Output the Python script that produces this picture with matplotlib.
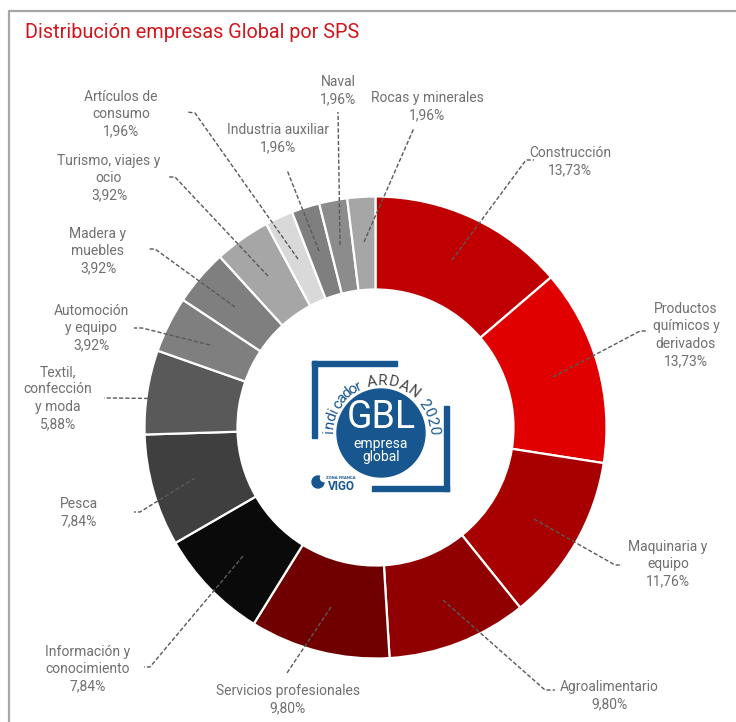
import numpy as np
import matplotlib
matplotlib.use("Agg")
import matplotlib.pyplot as plt
from matplotlib.patches import Circle, Rectangle

plt.rcParams['font.family'] = ['Roboto', 'DejaVu Sans']

H = 722
W = 736

# sectors, clockwise from 12 o'clock
sectors = ["Construcción", "Productos\nquímicos y\nderivados", "Maquinaria y\nequipo",
           "Agroalimentario", "Servicios profesionales", "Información y\nconocimiento",
           "Pesca", "Textil,\nconfección\ny moda", "Automoción\ny equipo", "Madera y\nmuebles",
           "Turismo, viajes y\nocio", "Artículos de\nconsumo", "Industria auxiliar",
           "Naval", "Rocas y minerales"]
shares = [13.73, 13.73, 11.76, 9.80, 9.80, 7.84, 7.84, 5.88, 3.92, 3.92, 3.92, 1.96, 1.96, 1.96, 1.96]
colors = ["#C00000", "#E00000", "#A80000", "#900000", "#700000", "#0A0A0A", "#3F3F3F", "#595959",
          "#7F7F7F", "#7F7F7F", "#A6A6A6", "#D9D9D9", "#7F7F7F", "#8C8C8C", "#A6A6A6"]

# label centre in image pixels
label_xy = [(570, 162), (686, 335), (668, 564), (609, 696), (288, 700), (88, 669), (79, 513),
            (58, 398), (91, 328), (98, 251), (109, 178), (121, 114), (278, 139), (338, 91), (427, 107)]
# leader lines in image pixels, wedge end first
leaders = [[(452, 260), (526, 160), (534, 160)],
           [(553, 377), (640, 331), (648, 331)],
           [(534, 519), (615, 565), (622, 565)],
           [(443, 600), (545, 690), (555, 690)],
           [(331, 607), (287, 673)],
           [(243, 556), (150, 667), (144, 667)],
           [(195, 478), (140, 512), (134, 512)],
           [(192, 399), (112, 398), (104, 398)],
           [(210, 345), (142, 328), (134, 328)],
           [(235, 307), (155, 249), (148, 249)],
           [(268, 276), (175, 177), (168, 177)],
           [(298, 259), (195, 113), (187, 112)],
           [(319, 251), (287, 170)],
           [(340, 245), (338, 112)],
           [(364, 242), (414, 128)]]

fig = plt.figure(figsize=(W / 100, H / 100), dpi=100, facecolor="white")
ax = fig.add_axes([0, 0, 1, 1])

ax.pie(shares, colors=colors, startangle=90, counterclock=False, center=(375.5, H - 427.5),
       radius=231, frame=True,
       wedgeprops=dict(width=93, edgecolor="white", linewidth=1.6))
ax.set_xlim(0, W)
ax.set_ylim(0, H)
ax.axis("off")


def Y(y):
    return H - y


# frame and title
ax.plot([9, 9, W], [0, Y(11), Y(11)], color="#A6A6A6", lw=1.6, clip_on=False)
ax.text(25, Y(33), "Distribución empresas Global por SPS", color="#D2161E", fontsize=14.3,
        ha="left", va="center")

# labels and leaders
for name, val, (lx, ly), pts in zip(sectors, shares, label_xy, leaders):
    txt = name + "\n" + f"{val:.2f}".replace(".", ",") + "%"
    ax.text(lx, Y(ly), txt, ha="center", va="center", color="#707070", fontsize=10,
            linespacing=1.3)
    xs = [p[0] for p in pts]
    ys = [Y(p[1]) for p in pts]
    ax.plot(xs, ys, color="#595959", lw=1, ls=(0, (3, 1.5)))

# logo
blue = "#17568F"
ax.add_patch(Rectangle((312, Y(438)), 5, 77, color=blue))
ax.add_patch(Rectangle((312, Y(366)), 85, 5, color=blue))
ax.add_patch(Rectangle((444, Y(491)), 5, 85, color=blue))
ax.add_patch(Rectangle((372, Y(491)), 77, 5, color=blue))
ax.add_patch(Circle((381, Y(433)), 44, color=blue))
ax.text(381, Y(417), "GBL", color="white", fontsize=27, ha="center", va="center")
ax.text(381, Y(444), "empresa", color="white", fontsize=10, ha="center", va="center")
ax.text(381, Y(457), "global", color="white", fontsize=10, ha="center", va="center")

# curved lettering round the circle
arc_words = ["indicador", "ARDAN", "2020"]
arc_spans = [(178, 115), (100, 52), (34, 3)]
arc_colors = [blue, "#444444", blue]
for word, (a0, a1), c in zip(arc_words, arc_spans, arc_colors):
    for ch, ang in zip(word, np.linspace(a0, a1, len(word))):
        a = np.deg2rad(ang)
        ax.text(381 + 52 * np.cos(a), Y(433) + 52 * np.sin(a), ch, color=c, fontsize=11,
                rotation=ang - 90, ha="center", va="center", rotation_mode="anchor")

ax.text(341, Y(486), "VIGO", color=blue, fontsize=8.5, fontweight="bold", ha="center", va="center")
ax.text(341, Y(478), "ZONA FRANCA", color=blue, fontsize=3.2, fontweight="bold", ha="center", va="center")
ax.add_patch(Circle((318, Y(482)), 6, color=blue))
ax.add_patch(Circle((324, Y(478)), 3.5, color="white"))

fig.savefig("out.png", dpi=100)
